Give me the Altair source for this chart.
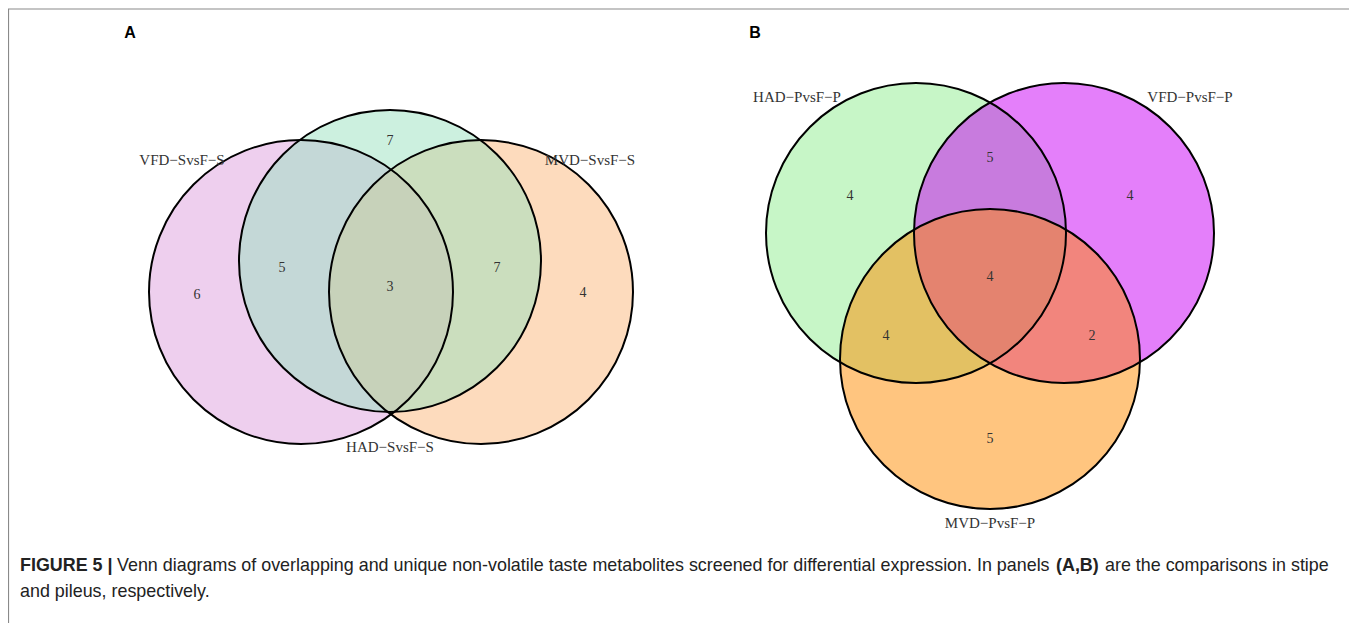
import altair as alt
import pandas as pd

# ---------------- data ----------------
# Panel A (stipe)
sets_A = ["VFD−SvsF−S", "HAD−SvsF−S", "MVD−SvsF−S"]
regions_A = ["VFD only", "HAD only", "MVD only", "VFD∩HAD", "HAD∩MVD", "VFD∩HAD∩MVD"]
counts_A = [6, 7, 4, 5, 7, 3]
# Panel B (pileus)
sets_B = ["HAD−PvsF−P", "VFD−PvsF−P", "MVD−PvsF−P"]
regions_B = ["HAD only", "VFD only", "MVD only", "HAD∩VFD", "HAD∩MVD", "VFD∩MVD", "HAD∩VFD∩MVD"]
counts_B = [4, 4, 5, 5, 4, 2, 4]

caption_bold = "FIGURE 5 |"
caption_l1 = "Venn diagrams of overlapping and unique non-volatile taste metabolites screened for differential expression. In panels"
caption_bold2 = "(A,B)"
caption_l1b = "are the comparisons in stipe"
caption_l2 = "and pileus, respectively."

# ---------------- layout (page pixel coordinates) ----------------
W, H = 1341, 620
circle_cx_A = [301, 390, 481]
circle_cy_A = [292, 261, 292]
circle_r_A = [152, 151, 152]
fill_A = ["#DDA0DD", "#99E1BF", "#FBB77B"]
order_A = [0, 2, 1]
label_xy_A = [(182, 160), (390, 447), (590, 160)]
region_xy_A = [(197, 295), (390, 141), (583, 293), (282, 268), (497, 268), (390, 287)]

circle_cx_B = [916, 1064, 990]
circle_cy_B = [233, 233, 359]
circle_r_B = [150, 150, 150]
fill_B = ["#90EE90", "#C900F5", "#FF8C00"]
order_B = [0, 1, 2]
label_xy_B = [(797, 97), (1190, 97), (990, 523)]
region_xy_B = [(850, 196), (1130, 196), (990, 439), (990, 158), (886, 336), (1092, 336), (990, 277)]

xs = alt.Scale(domain=[8, 8 + W], range=[0, W], nice=False, zero=False)
ys = alt.Scale(domain=[8, 8 + H], range=[0, H], nice=False, zero=False)

circ_rows = []
k = 0
for cx, cy, r, col, order in [(circle_cx_A, circle_cy_A, circle_r_A, fill_A, order_A),
                              (circle_cx_B, circle_cy_B, circle_r_B, fill_B, order_B)]:
    for i in order:
        circ_rows.append({"k": k, "x": cx[i], "y": cy[i], "size": (2 * r[i]) ** 2, "fill": col[i]})
        k += 1
circ = pd.DataFrame(circ_rows)

num_rows = [{"x": xy[0], "y": xy[1], "t": str(c)} for xy, c in zip(region_xy_A, counts_A)]
num_rows += [{"x": xy[0], "y": xy[1], "t": str(c)} for xy, c in zip(region_xy_B, counts_B)]
nums = pd.DataFrame(num_rows)

lab_rows = [{"x": xy[0], "y": xy[1], "t": s} for xy, s in zip(label_xy_A, sets_A)]
lab_rows += [{"x": xy[0], "y": xy[1], "t": s} for xy, s in zip(label_xy_B, sets_B)]
labs = pd.DataFrame(lab_rows)

X = alt.X("x:Q", scale=xs, axis=None)
Y = alt.Y("y:Q", scale=ys, axis=None)

fills = alt.Chart(circ).mark_point(shape="circle", filled=True, fillOpacity=0.5, strokeOpacity=0).encode(
    x=X, y=Y, size=alt.Size("size:Q", scale=None, legend=None),
    color=alt.Color("fill:N", scale=None), order=alt.Order("k:Q"))
strokes = alt.Chart(circ).mark_point(shape="circle", filled=False, stroke="#000000", strokeWidth=2, opacity=1).encode(
    x=X, y=Y, size=alt.Size("size:Q", scale=None, legend=None))

numbers = alt.Chart(nums).mark_text(font="Liberation Serif", fontSize=14, color="#333333", baseline="middle").encode(
    x=X, y=Y, text="t:N")
labels = alt.Chart(labs).mark_text(font="Liberation Serif", fontSize=15, color="#333333", baseline="middle").encode(
    x=X, y=Y, text="t:N")

panels = pd.DataFrame({"x": [130, 755], "y": [33, 33], "t": ["A", "B"]})
panel_txt = alt.Chart(panels).mark_text(font="Liberation Sans", fontSize=16, fontWeight="bold", color="#000000",
                                        baseline="middle").encode(x=X, y=Y, text="t:N")

CAP_FONT = "Liberation Sans"
CAP_SIZE = 17.9
cap_norm = pd.DataFrame({"x": [117, 1105, 20], "y": [566, 566, 592], "t": [caption_l1, caption_l1b, caption_l2]})
cap_bold = pd.DataFrame({"x": [20, 1056], "y": [566, 566], "t": [caption_bold, caption_bold2]})
cap1 = alt.Chart(cap_norm).mark_text(font=CAP_FONT, fontSize=CAP_SIZE, color="#222222", align="left",
                                     baseline="middle").encode(x=X, y=Y, text="t:N")
cap2 = alt.Chart(cap_bold).mark_text(font=CAP_FONT, fontSize=CAP_SIZE, fontWeight="bold", color="#222222",
                                     align="left", baseline="middle").encode(x=X, y=Y, text="t:N")

border = alt.Chart(pd.DataFrame({"x": [8.5], "x2": [1351], "y": [9], "y2": [640]})).mark_rect(
    fill="white", fillOpacity=0, stroke="#8a8a8a", strokeWidth=1.2).encode(
    x=X, x2="x2:Q", y=Y, y2="y2:Q")

chart = alt.layer(border, fills, strokes, numbers, labels, panel_txt, cap1, cap2).properties(
    width=W, height=H, autosize=alt.AutoSizeParams(type="none"), padding=0
).configure_view(stroke=None)

chart.save("out.html", embed_options={"renderer": "svg", "actions": False})
